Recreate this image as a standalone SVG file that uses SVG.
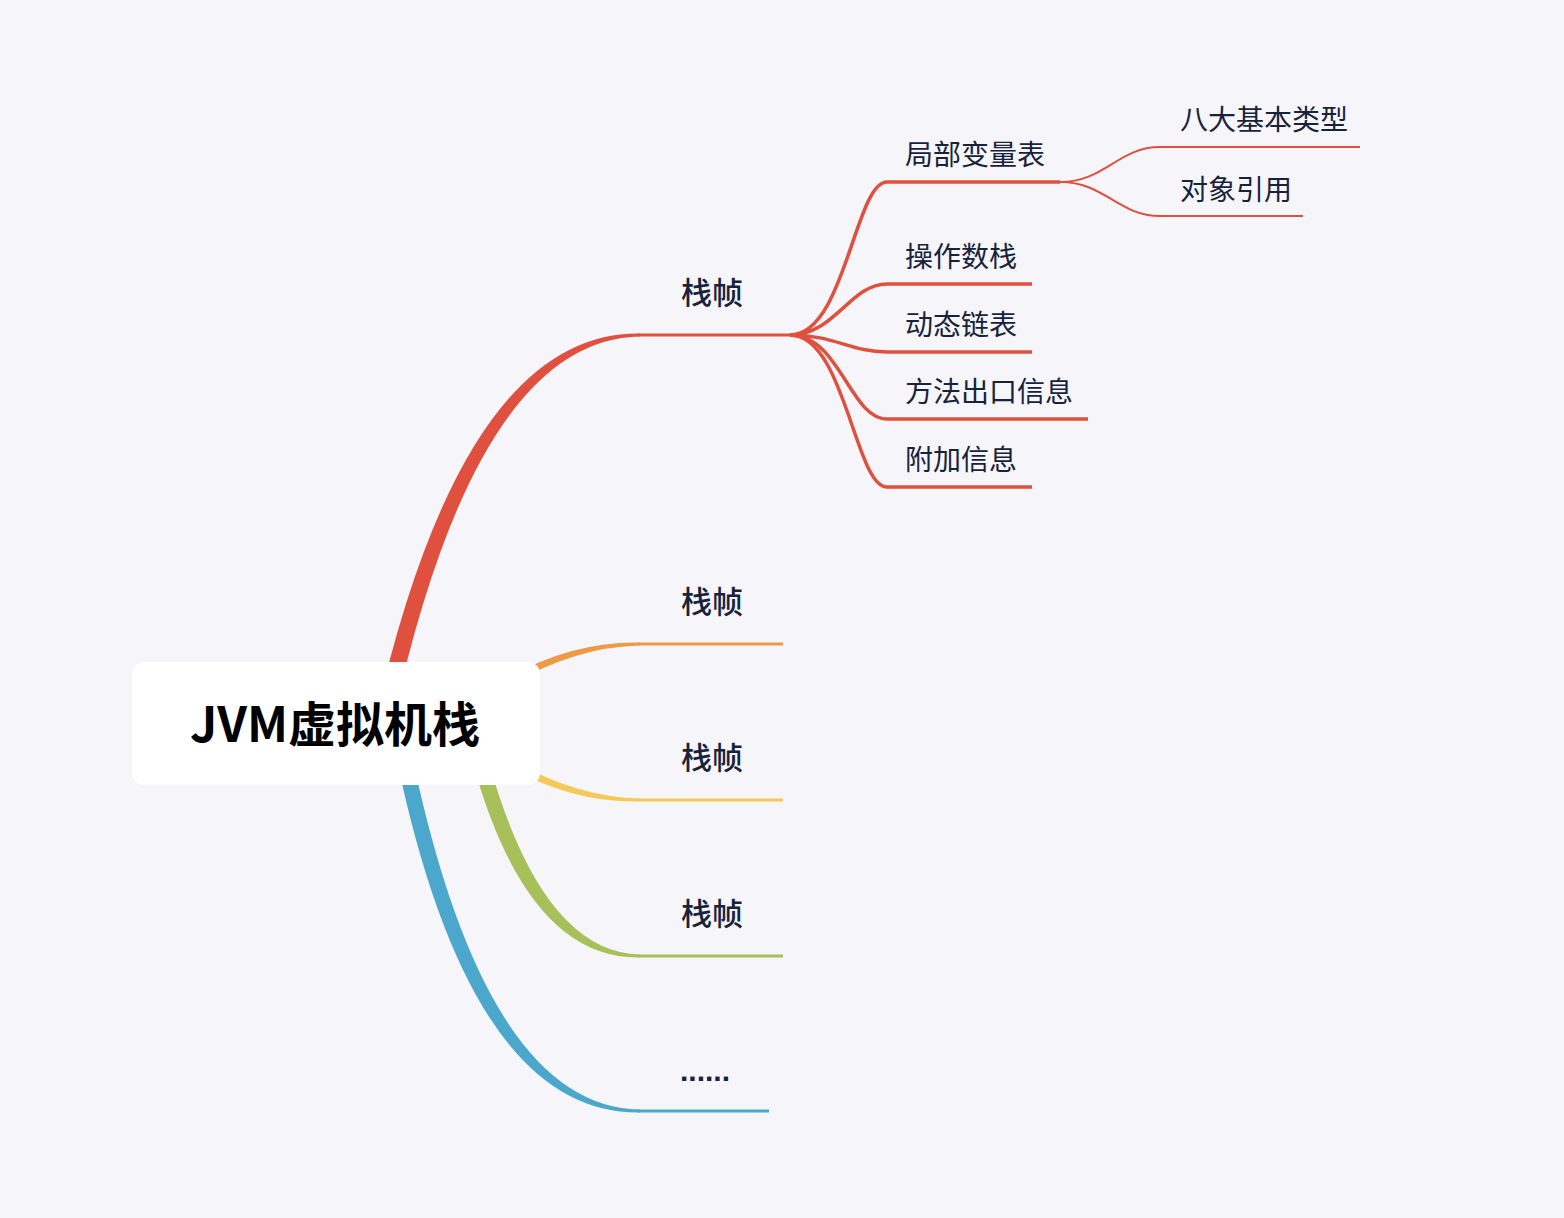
<svg xmlns="http://www.w3.org/2000/svg" width="1564" height="1218" viewBox="0 0 1564 1218">
<style>
.bg{fill:#f5f5fa}
.t{font-family:"Noto Sans CJK SC","Noto Sans",sans-serif;fill:#17223b}
.l1{font-size:31px;font-weight:500}
.l2{font-size:28px;font-weight:400}
.root{font-family:"Noto Sans CJK SC","Noto Sans",sans-serif;font-size:48px;font-weight:700;fill:#000;text-anchor:middle}
.sr{stroke:#e0503f;fill:none}
.so{stroke:#ec9a45;fill:none}
.sy{stroke:#f4c957;fill:none}
.sg{stroke:#a8c05a;fill:none}
.sb{stroke:#4ba8cc;fill:none}
</style>
<rect class="bg" x="0" y="0" width="1564" height="1218"/>
<g id="connectors">
  <path fill="#e0503f" d="M375 720 Q463 331 640 333.5 L640 336.5 Q477 339 393 720 Z"/>
  <path fill="#ec9a45" d="M480 696 Q556 641 640 642.5 L640 645.5 Q562 647 480 704 Z"/>
  <path fill="#f4c957" d="M480 740 Q562 797 640 798.5 L640 801.5 Q556 803 480 748 Z"/>
  <path fill="#a8c05a" d="M462 720 Q516 960 640 957.5 L640 954.5 Q532 952 478 720 Z"/>
  <path fill="#4ba8cc" d="M389 720 Q462 1115 640 1112.5 L640 1109.5 Q478 1107 405 720 Z"/>
  <line class="sr" x1="638" y1="335" x2="792" y2="335" stroke-width="3"/>
  <line class="so" x1="638" y1="644" x2="783" y2="644" stroke-width="3"/>
  <line class="sy" x1="638" y1="800" x2="783" y2="800" stroke-width="3"/>
  <line class="sg" x1="638" y1="956" x2="783" y2="956" stroke-width="3"/>
  <line class="sb" x1="638" y1="1111" x2="769" y2="1111" stroke-width="3"/>
  <g class="sr" stroke-width="3.5">
    <path d="M790 335 C845 335 855 182 887 182 L1060 182"/>
    <path d="M790 335 C835 335 850 284 887 284 L1032 284"/>
    <path d="M790 335 C835 335 850 352 887 352 L1032 352"/>
    <path d="M790 335 C840 335 850 419 887 419 L1088 419"/>
    <path d="M790 335 C845 335 855 487 887 487 L1032 487"/>
  </g>
  <g class="sr" stroke-width="2">
    <path d="M1060 182 C1105 182 1118 147 1160 147 L1360 147"/>
    <path d="M1060 182 C1105 182 1118 216 1160 216 L1303 216"/>
  </g>
</g>
<g id="root">
  <rect x="132" y="662" width="408" height="123" rx="12" fill="#ffffff"/>
  <text class="root" x="335" y="742">JVM虚拟机栈</text>
</g>
<g id="frame1"><text class="t l1" x="681" y="304">栈帧</text></g>
<g id="frame2"><text class="t l1" x="681" y="613">栈帧</text></g>
<g id="frame3"><text class="t l1" x="681" y="769">栈帧</text></g>
<g id="frame4"><text class="t l1" x="681" y="925">栈帧</text></g>
<g id="more"><text class="t" x="680" y="1081" style="font-family:'Liberation Sans',sans-serif;font-size:30px;font-weight:700">......</text></g>
<g id="locals"><text class="t l2" x="905" y="165">局部变量表</text></g>
<g id="operand"><text class="t l2" x="905" y="267">操作数栈</text></g>
<g id="dynlink"><text class="t l2" x="905" y="335">动态链表</text></g>
<g id="retaddr"><text class="t l2" x="905" y="402">方法出口信息</text></g>
<g id="extra"><text class="t l2" x="905" y="470">附加信息</text></g>
<g id="prim"><text class="t l2" x="1180" y="130">八大基本类型</text></g>
<g id="ref"><text class="t l2" x="1180" y="200">对象引用</text></g>
</svg>
